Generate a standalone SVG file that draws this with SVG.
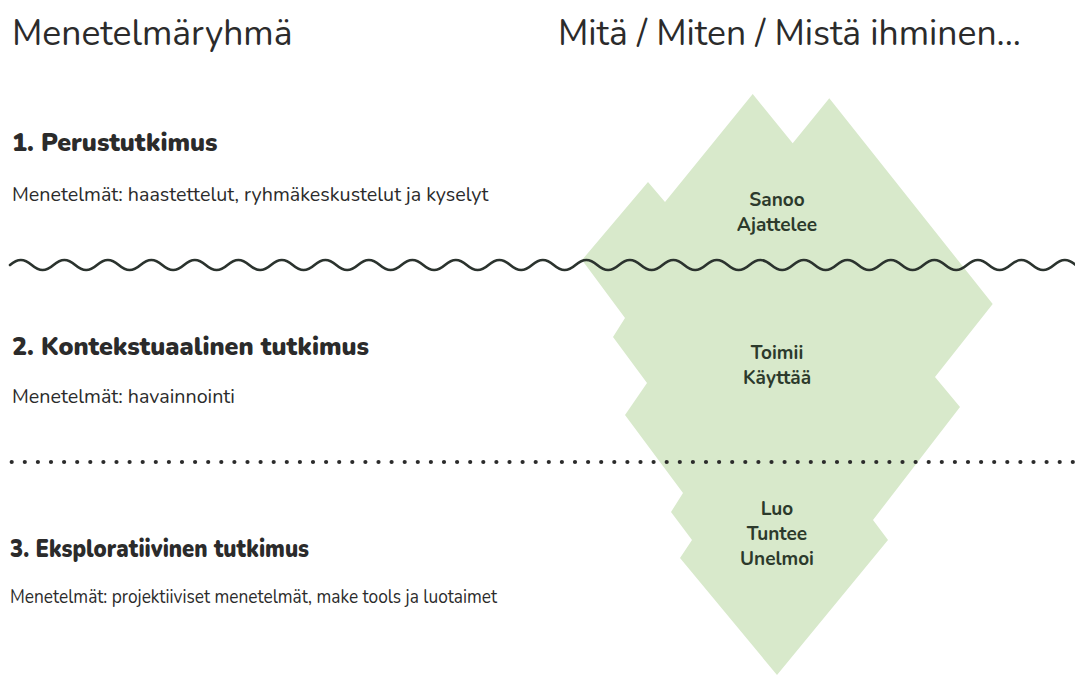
<svg xmlns="http://www.w3.org/2000/svg" width="1075" height="677" viewBox="0 0 1075 677">
  <style>
    .title { font-family: "Nunito", "Lato", "Open Sans", sans-serif; font-size: 35.5px; fill: #2b2b2b; }
    .head { font-family: "Nunito", "Lato", "Open Sans", sans-serif; font-size: 25px; font-weight: 900; fill: #2b2b2b; }
    .body { font-family: "Nunito", "Lato", "Open Sans", sans-serif; font-size: 19.7px; fill: #2b2b2b; }
    .label { font-family: "Nunito", "Lato", "Open Sans", sans-serif; font-size: 19px; font-weight: 700; fill: #2c3a2c; text-anchor: middle; }
    .ice { fill: #d8e9cb; }
    .wave { fill: none; stroke: #2b332e; stroke-width: 2.6; stroke-linecap: round; }
    .dots { fill: none; stroke: #2b2b2b; stroke-width: 4.2; stroke-linecap: round; stroke-dasharray: 0 13.1; }
  </style>
  <rect width="1075" height="677" fill="#ffffff"/>

  <!-- column headings -->
  <text class="title" x="12" y="45">Menetelmäryhmä</text>
  <text class="title" x="558" y="45">Mitä / Miten / Mistä ihminen...</text>

  <!-- iceberg -->
  <g id="iceberg">
    <polygon class="ice" points="752.7,94 792.7,143.3 829.3,98.3 992.7,304 935,377 960,407 873,520 888,540 777,675 680,558 692,540 671,512 683,493 625,415 647,383 613,337 625,318 582,260 648,182 665,202"/>
  </g>

  <!-- levels -->
  <g id="level-1">
    <text class="head" x="12" y="151">1. Perustutkimus</text>
    <text class="body" x="12" y="201">Menetelmät: haastettelut, ryhmäkeskustelut ja kyselyt</text>
    <text class="label" x="777" y="206">Sanoo</text>
    <text class="label" x="777" y="231">Ajattelee</text>
  </g>
  <g id="level-2">
    <text class="head" x="12" y="355">2. Kontekstuaalinen tutkimus</text>
    <text class="body" x="12" y="403">Menetelmät: havainnointi</text>
    <text class="label" x="777" y="359">Toimii</text>
    <text class="label" x="777" y="384">Käyttää</text>
  </g>
  <g id="level-3">
    <text class="head" x="10" y="557" textLength="299" lengthAdjust="spacingAndGlyphs">3. Eksploratiivinen tutkimus</text>
    <text class="body" x="10" y="603" textLength="487" lengthAdjust="spacingAndGlyphs">Menetelmät: projektiiviset menetelmät, make tools ja luotaimet</text>
    <text class="label" x="777" y="515">Luo</text>
    <text class="label" x="777" y="540">Tuntee</text>
    <text class="label" x="777" y="565">Unelmoi</text>
  </g>

  <!-- dividers: waterline and dotted boundary -->
  <g id="connectors">
    <path class="wave" d="M10,265 c7.8,-6.7 13.9,-6.7 21.75,0 s13.9,6.7 21.75,0 s13.9,-6.7 21.75,0 s13.9,6.7 21.75,0 s13.9,-6.7 21.75,0 s13.9,6.7 21.75,0 s13.9,-6.7 21.75,0 s13.9,6.7 21.75,0 s13.9,-6.7 21.75,0 s13.9,6.7 21.75,0 s13.9,-6.7 21.75,0 s13.9,6.7 21.75,0 s13.9,-6.7 21.75,0 s13.9,6.7 21.75,0 s13.9,-6.7 21.75,0 s13.9,6.7 21.75,0 s13.9,-6.7 21.75,0 s13.9,6.7 21.75,0 s13.9,-6.7 21.75,0 s13.9,6.7 21.75,0 s13.9,-6.7 21.75,0 s13.9,6.7 21.75,0 s13.9,-6.7 21.75,0 s13.9,6.7 21.75,0 s13.9,-6.7 21.75,0 s13.9,6.7 21.75,0 s13.9,-6.7 21.75,0 s13.9,6.7 21.75,0 s13.9,-6.7 21.75,0 s13.9,6.7 21.75,0 s13.9,-6.7 21.75,0 s13.9,6.7 21.75,0 s13.9,-6.7 21.75,0 s13.9,6.7 21.75,0 s13.9,-6.7 21.75,0 s13.9,6.7 21.75,0 s13.9,-6.7 21.75,0 s13.9,6.7 21.75,0 s13.9,-6.7 21.75,0 s13.9,6.7 21.75,0 s13.9,-6.7 21.75,0 s13.9,6.7 21.75,0 s13.9,-6.7 21.75,0 s13.9,6.7 21.75,0 s13.9,-6.7 21.75,0 s13.9,6.7 21.75,0 s13.9,-6.7 21.75,0 s13.9,6.7 21.75,0 s13.9,-6.7 21.75,0"/>
    <path class="dots" d="M11.7,462 H1075"/>
  </g>
</svg>
